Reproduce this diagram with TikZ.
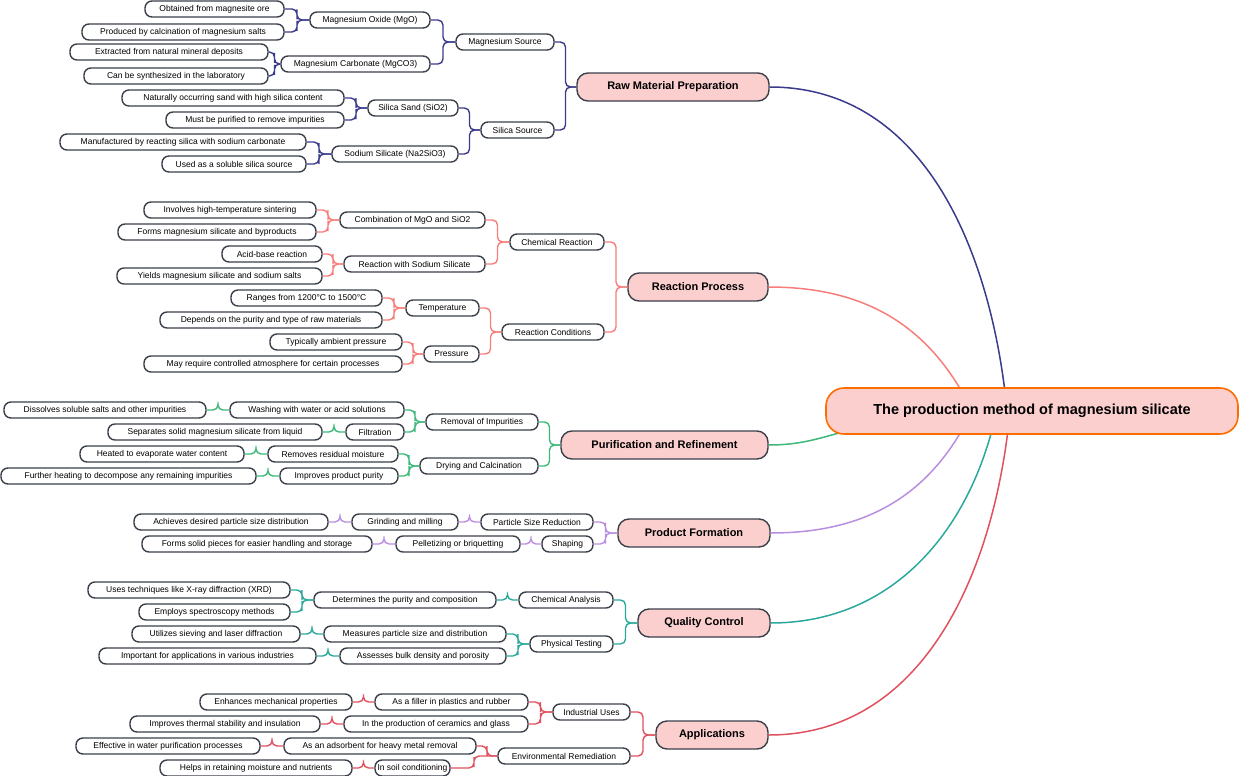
\documentclass[tikz,border=0pt]{standalone}
\usepackage{fontspec}
\setmainfont{Liberation Sans}
\usetikzlibrary{calc}
\definecolor{cA}{HTML}{3B3B8C}
\definecolor{cB}{HTML}{F77D7A}
\definecolor{cC}{HTML}{3DB87A}
\definecolor{cD}{HTML}{B98EE0}
\definecolor{cE}{HTML}{2BA89C}
\definecolor{cF}{HTML}{E0505E}
\definecolor{bord}{HTML}{3A3F4A}
\definecolor{pinkf}{HTML}{FCCFCF}
\newcommand\nd[6]{\node[#1, minimum width=#4pt-#3pt] (#2) at ({(#3+#4)/2},#5) {#6};}
\newcommand\lk[3]{\draw[link,#1] (#2.east) -| ($(#2.east)!.5!(#3.west)$) |- (#3.west);}
\begin{document}
\begin{tikzpicture}[x=1pt,y=-1pt,
 leaf/.style={draw=bord,line width=1.4pt,fill=white,rounded corners=7pt,minimum height=16pt,inner sep=0pt,font=\fontsize{8.5}{9}\selectfont},
 br/.style={draw=bord,line width=1.4pt,fill=pinkf,rounded corners=11pt,minimum height=28pt,inner sep=0pt,font=\bfseries\fontsize{11}{12}\selectfont},
 rt/.style={draw=orange!85!red,line width=1.6pt,fill=pinkf,rounded corners=18pt,minimum height=46pt,inner sep=0pt,font=\bfseries\fontsize{14.5}{16}\selectfont},
 link/.style={line width=1.4pt,rounded corners=5pt},
 curve/.style={line width=1.5pt}]
\useasboundingbox (0,0) rectangle (1240,776);
% branches
\nd{br}{b1}{577}{769}{87}{Raw Material Preparation}
\nd{br}{b2}{628}{768}{287}{Reaction Process}
\nd{br}{b3}{561}{768}{445}{Purification and Refinement}
\nd{br}{b4}{618}{770}{533}{Product Formation}
\nd{br}{b5}{638}{770}{623}{Quality Control}
\nd{br}{b6}{656}{768}{735}{Applications}
% root curves
\coordinate (r1) at (1005,392);
\coordinate (r2) at (962,392);
\coordinate (r3) at (850,430);
\coordinate (r4) at (962,430);
\coordinate (r5) at (992,430);
\coordinate (r6) at (1008,430);
\draw[curve,cA] (r1) to[out=97,in=0] (b1.east);
\draw[curve,cB] (r2) to[out=120,in=0] (b2.east);
\draw[curve,cC] (r3) to[out=195,in=0] (b3.east);
\draw[curve,cD] (r4) to[out=-120,in=0] (b4.east);
\draw[curve,cE] (r5) to[out=-105,in=0] (b5.east);
\draw[curve,cF] (r6) to[out=-97,in=0] (b6.east);
\nd{rt}{root}{826}{1238}{411}{The production method of magnesium silicate}
% group 1
\nd{leaf}{a1}{145}{284}{9}{Obtained from magnesite ore}
\nd{leaf}{a2}{82}{284}{32}{Produced by calcination of magnesium salts}
\nd{leaf}{a3}{310}{430}{20}{Magnesium Oxide (MgO)}
\nd{leaf}{a4}{70}{268}{52}{Extracted from natural mineral deposits}
\nd{leaf}{a5}{84}{268}{76}{Can be synthesized in the laboratory}
\nd{leaf}{a6}{281}{430}{64}{Magnesium Carbonate (MgCO3)}
\nd{leaf}{a7}{456}{554}{42}{Magnesium Source}
\nd{leaf}{a8}{122}{344}{98}{Naturally occurring sand with high silica content}
\nd{leaf}{a9}{166}{344}{120}{Must be purified to remove impurities}
\nd{leaf}{a10}{368}{458}{108}{Silica Sand (SiO2)}
\nd{leaf}{a11}{60}{306}{142}{Manufactured by reacting silica with sodium carbonate}
\nd{leaf}{a12}{162}{306}{164}{Used as a soluble silica source}
\nd{leaf}{a13}{332}{458}{154}{Sodium Silicate (Na2SiO3)}
\nd{leaf}{a14}{481}{554}{130}{Silica Source}
\lk{cA}{a1}{a3}\lk{cA}{a2}{a3}\lk{cA}{a4}{a6}\lk{cA}{a5}{a6}
\lk{cA}{a3}{a7}\lk{cA}{a6}{a7}\lk{cA}{a8}{a10}\lk{cA}{a9}{a10}
\lk{cA}{a11}{a13}\lk{cA}{a12}{a13}\lk{cA}{a10}{a14}\lk{cA}{a13}{a14}
\lk{cA}{a7}{b1}\lk{cA}{a14}{b1}
% group 2
\nd{leaf}{c1}{144}{316}{210}{Involves high-temperature sintering}
\nd{leaf}{c2}{118}{316}{232}{Forms magnesium silicate and byproducts}
\nd{leaf}{c3}{340}{485}{220}{Combination of MgO and SiO2}
\nd{leaf}{c4}{222}{322}{254}{Acid-base reaction}
\nd{leaf}{c5}{117}{322}{276}{Yields magnesium silicate and sodium salts}
\nd{leaf}{c6}{344}{485}{264}{Reaction with Sodium Silicate}
\nd{leaf}{c7}{510}{604}{242}{Chemical Reaction}
\nd{leaf}{c8}{231}{382}{298}{Ranges from 1200°C to 1500°C}
\nd{leaf}{c9}{160}{382}{320}{Depends on the purity and type of raw materials}
\nd{leaf}{c10}{406}{479}{308}{Temperature}
\nd{leaf}{c11}{270}{402}{342}{Typically ambient pressure}
\nd{leaf}{c12}{144}{402}{364}{May require controlled atmosphere for certain processes}
\nd{leaf}{c13}{424}{479}{354}{Pressure}
\nd{leaf}{c14}{502}{604}{332}{Reaction Conditions}
\lk{cB}{c1}{c3}\lk{cB}{c2}{c3}\lk{cB}{c4}{c6}\lk{cB}{c5}{c6}
\lk{cB}{c3}{c7}\lk{cB}{c6}{c7}\lk{cB}{c8}{c10}\lk{cB}{c9}{c10}
\lk{cB}{c11}{c13}\lk{cB}{c12}{c13}\lk{cB}{c10}{c14}\lk{cB}{c13}{c14}
\lk{cB}{c7}{b2}\lk{cB}{c14}{b2}
% group 3
\nd{leaf}{d1}{4}{206}{410}{Dissolves soluble salts and other impurities}
\nd{leaf}{d2}{230}{404}{410}{Washing with water or acid solutions}
\nd{leaf}{d3}{108}{322}{432}{Separates solid magnesium silicate from liquid}
\nd{leaf}{d4}{346}{404}{432}{Filtration}
\nd{leaf}{d5}{426}{538}{422}{Removal of Impurities}
\nd{leaf}{d6}{80}{244}{454}{Heated to evaporate water content}
\nd{leaf}{d7}{268}{398}{454}{Removes residual moisture}
\nd{leaf}{d8}{1}{256}{476}{Further heating to decompose any remaining impurities}
\nd{leaf}{d9}{280}{398}{476}{Improves product purity}
\nd{leaf}{d10}{420}{538}{466}{Drying and Calcination}
\lk{cC}{d1}{d2}\lk{cC}{d3}{d4}\lk{cC}{d6}{d7}\lk{cC}{d8}{d9}
\lk{cC}{d2}{d5}\lk{cC}{d4}{d5}\lk{cC}{d7}{d10}\lk{cC}{d9}{d10}
\lk{cC}{d5}{b3}\lk{cC}{d10}{b3}
% group 4
\nd{leaf}{e1}{134}{328}{522}{Achieves desired particle size distribution}
\nd{leaf}{e2}{352}{458}{522}{Grinding and milling}
\nd{leaf}{e3}{481}{593}{522}{Particle Size Reduction}
\nd{leaf}{e4}{142}{372}{544}{Forms solid pieces for easier handling and storage}
\nd{leaf}{e5}{396}{520}{544}{Pelletizing or briquetting}
\nd{leaf}{e6}{542}{593}{544}{Shaping}
\lk{cD}{e1}{e2}\lk{cD}{e2}{e3}\lk{cD}{e4}{e5}\lk{cD}{e5}{e6}
\lk{cD}{e3}{b4}\lk{cD}{e6}{b4}
% group 5
\nd{leaf}{f1}{88}{290}{590}{Uses techniques like X-ray diffraction (XRD)}
\nd{leaf}{f2}{139}{290}{612}{Employs spectroscopy methods}
\nd{leaf}{f3}{314}{496}{600}{Determines the purity and composition}
\nd{leaf}{f4}{519}{613}{600}{Chemical Analysis}
\nd{leaf}{f5}{132}{300}{634}{Utilizes sieving and laser diffraction}
\nd{leaf}{f6}{324}{506}{634}{Measures particle size and distribution}
\nd{leaf}{f7}{99}{316}{656}{Important for applications in various industries}
\nd{leaf}{f8}{340}{506}{656}{Assesses bulk density and porosity}
\nd{leaf}{f9}{530}{613}{644}{Physical Testing}
\lk{cE}{f1}{f3}\lk{cE}{f2}{f3}\lk{cE}{f3}{f4}\lk{cE}{f5}{f6}\lk{cE}{f7}{f8}
\lk{cE}{f6}{f9}\lk{cE}{f8}{f9}\lk{cE}{f4}{b5}\lk{cE}{f9}{b5}
% group 6
\nd{leaf}{g1}{200}{352}{702}{Enhances mechanical properties}
\nd{leaf}{g2}{375}{528}{702}{As a filler in plastics and rubber}
\nd{leaf}{g3}{130}{320}{724}{Improves thermal stability and insulation}
\nd{leaf}{g4}{344}{528}{724}{In the production of ceramics and glass}
\nd{leaf}{g5}{553}{630}{712}{Industrial Uses}
\nd{leaf}{g6}{76}{260}{746}{Effective in water purification processes}
\nd{leaf}{g7}{284}{476}{746}{As an adsorbent for heavy metal removal}
\nd{leaf}{g8}{160}{352}{768}{Helps in retaining moisture and nutrients}
\nd{leaf}{g9}{375}{450}{768}{In soil conditioning}
\nd{leaf}{g10}{498}{630}{756}{Environmental Remediation}
\lk{cF}{g1}{g2}\lk{cF}{g3}{g4}\lk{cF}{g6}{g7}\lk{cF}{g8}{g9}
\lk{cF}{g2}{g5}\lk{cF}{g4}{g5}\lk{cF}{g7}{g10}\lk{cF}{g9}{g10}
\lk{cF}{g5}{b6}\lk{cF}{g10}{b6}
\end{tikzpicture}
\end{document}
